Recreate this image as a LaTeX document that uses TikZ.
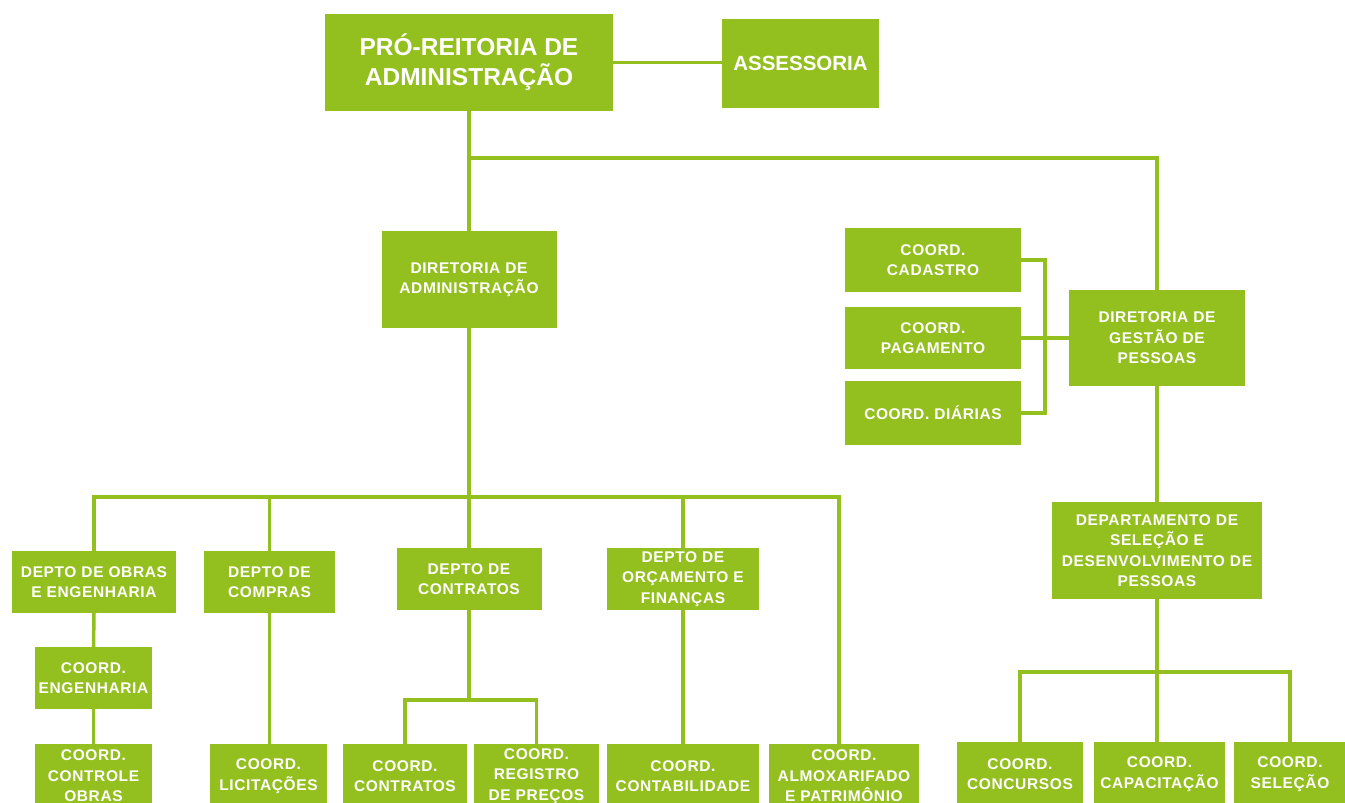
\documentclass[tikz,border=0pt]{standalone}
\usepackage{fontspec}
\setmainfont{Liberation Sans}
\newfontfamily\boxfont[LetterSpace=4]{Liberation Sans}
\definecolor{leaf}{RGB}{147,192,31}
\begin{document}
\begin{tikzpicture}[x=1pt,y=-1pt,
  box/.style={fill=leaf,text=white,inner sep=0pt,align=center,
    font=\boxfont\bfseries\fontsize{15.5}{20.5}\selectfont},
  big/.style={box,font=\bfseries\fontsize{24.5}{30}\selectfont},
  link/.style={draw=leaf,line width=3.5pt}]
\clip (0,0) rectangle (1345,803);
\fill[white] (0,0) rectangle (1345,803);
% top level
\node[big,minimum width=288pt,minimum height=97pt] (pro) at (469,62.5) {PRÓ-REITORIA DE\\ADMINISTRAÇÃO};
\node[box,font=\bfseries\fontsize{20.5}{25}\selectfont,minimum width=157pt,minimum height=89pt] (ass) at (800.5,63.5) {ASSESSORIA};
\node[box,minimum width=175pt,minimum height=97pt] (da) at (469,279.5) {DIRETORIA DE\\ADMINISTRAÇÃO};
\node[box,minimum width=176pt,minimum height=96pt] (dgp) at (1157,338) {DIRETORIA DE\\GESTÃO DE\\PESSOAS};
\node[box,minimum width=176pt,minimum height=64pt] (cad) at (933,260) {COORD.\\CADASTRO};
\node[box,minimum width=176pt,minimum height=62pt] (pag) at (933,338) {COORD.\\PAGAMENTO};
\node[box,minimum width=176pt,minimum height=64pt] (dia) at (933,413) {COORD. DIÁRIAS};
% departments
\node[box,minimum width=164pt,minimum height=62pt] (obras) at (94,582) {DEPTO DE OBRAS\\E ENGENHARIA};
\node[box,minimum width=131pt,minimum height=62pt] (compras) at (269.5,582) {DEPTO DE\\COMPRAS};
\node[box,minimum width=145pt,minimum height=62pt] (contr) at (469,579) {DEPTO DE\\CONTRATOS};
\node[box,minimum width=152pt,minimum height=62pt] (orc) at (683,579) {DEPTO DE\\ORÇAMENTO E\\FINANÇAS};
\node[box,minimum width=210pt,minimum height=97pt] (dsdp) at (1157,550.5) {DEPARTAMENTO DE\\SELEÇÃO E\\DESENVOLVIMENTO DE\\PESSOAS};
% coordinations
\node[box,minimum width=117pt,minimum height=62pt] (eng) at (93.5,678) {COORD.\\ENGENHARIA};
\node[box,minimum width=117pt,minimum height=64pt] (ctrl) at (93.5,776) {COORD.\\CONTROLE\\OBRAS};
\node[box,minimum width=117pt,minimum height=64pt] (lic) at (268.5,776) {COORD.\\LICITAÇÕES};
\node[box,minimum width=124pt,minimum height=64pt] (ccontr) at (405,776) {COORD.\\CONTRATOS};
\node[box,minimum width=125pt,minimum height=64pt] (reg) at (536.5,776) {COORD.\\REGISTRO\\DE PREÇOS};
\node[box,minimum width=152pt,minimum height=64pt] (contab) at (683,776) {COORD.\\CONTABILIDADE};
\node[box,minimum width=150pt,minimum height=64pt] (alm) at (844,776) {COORD.\\ALMOXARIFADO\\E PATRIMÔNIO};
\node[box,minimum width=126pt,minimum height=64pt] (conc) at (1020,774) {COORD.\\CONCURSOS};
\node[box,minimum width=131pt,minimum height=64pt] (capac) at (1159.5,774) {COORD.\\CAPACITAÇÃO};
\node[box,minimum width=112pt,minimum height=64pt] (sel) at (1290,774) {COORD.\\SELEÇÃO};
% junction points
\coordinate (j1) at (469,158);
\coordinate (busR) at (839,497);
\coordinate (cj) at (469,700);
\coordinate (dj) at (1157,672);
% connectors
\draw[link] (pro.east) -- (pro.east -| ass.west);
\draw[link] (pro.south) -- (da.north);
\draw[link] (j1) -| (dgp.north);
\draw[link] (cad.east) -- ++(24,0) |- (dia.east);
\draw[link] (pag.east) -- (dgp.west);
\draw[link] (da.south) -- (contr.north);
\draw[link] (obras.north) |- (busR) -- (busR |- alm.north);
\draw[link] (compras.north) -- (compras.north |- busR);
\draw[link] (orc.north) -- (orc.north |- busR);
\draw[link] (obras.south) -- (eng.north);
\draw[link] (eng.south) -- (ctrl.north);
\draw[link] (compras.south) -- (compras.south |- lic.north);
\draw[link] (contr.south) -- (cj);
\draw[link] (ccontr.north) |- (cj) -| (reg.north);
\draw[link] (orc.south) -- (contab.north);
\draw[link] (dgp.south) -- (dsdp.north);
\draw[link] (dsdp.south) -- (dsdp.south |- capac.north);
\draw[link] (conc.north) |- (dj) -| (sel.north);
\end{tikzpicture}
\end{document}
